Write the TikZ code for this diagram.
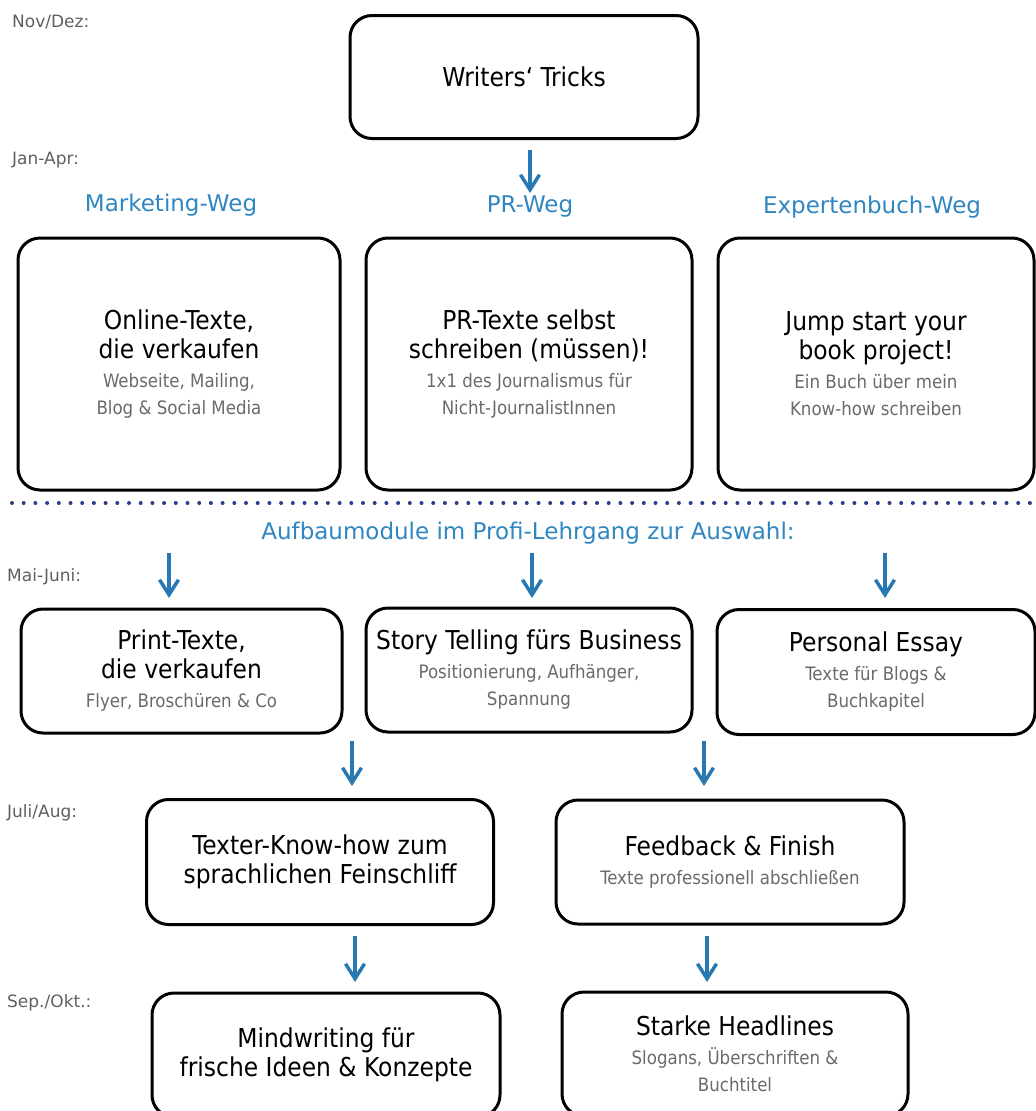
\documentclass[tikz,border=0pt]{standalone}
\usepackage{fontspec}
\setmainfont{DejaVu Sans}
\newfontfamily\condfont{DejaVu Sans Condensed}
\usetikzlibrary{arrows.meta}
\definecolor{arrblue}{HTML}{2878B4}
\definecolor{headblue}{HTML}{2F86C0}
\definecolor{subgray}{HTML}{6A6A6A}
\definecolor{labgray}{HTML}{5F5F5F}
\definecolor{dotblue}{HTML}{2D3D8A}
\newcommand\grayline[1]{{\color{subgray}\fontsize{18.5}{22}\selectfont #1}}
\begin{document}
\begin{tikzpicture}[x=1pt,y=-1pt,
  box/.style={draw=black, line width=3pt, rounded corners=22pt, align=center,
    inner sep=0pt, font=\condfont\fontsize{26}{29}\selectfont},
  head/.style={text=headblue, inner sep=0pt, font=\fontsize{23}{28}\selectfont},
  lab/.style={text=labgray, inner sep=0pt, anchor=west, font=\fontsize{17}{20}\selectfont},
  arr/.style={draw=arrblue, line width=3.5pt,
    -{Straight Barb[length=15pt,width=19pt,line width=3.5pt]}},
  dotline/.style={draw=dotblue, line width=4pt, line cap=round, dash pattern=on 0pt off 11.7pt}
]
\useasboundingbox (0,0) rectangle (1036,1111);

% month labels
\node[lab] (l1) at (12,22) {Nov/Dez:};
\node[lab] (l2) at (12,160) {Jan-Apr:};
\node[lab] (l3) at (7,577) {Mai-Juni:};
\node[lab] (l4) at (7,813) {Juli/Aug:};
\node[lab] (l5) at (7,1003) {Sep./Okt.:};

% top box
\node[box, minimum width=348pt, minimum height=123pt] (wt) at (524,77) {Writers‘ Tricks};

% headings
\node[head] (hm) at (171,205) {Marketing-Weg};
\node[head] (hp) at (530,207) {PR-Weg};
\node[head] (he) at (872,207) {Expertenbuch-Weg};

% main three boxes
\node[box, minimum width=322pt, minimum height=252pt] (on) at (179,364)
  {Online-Texte,\\die verkaufen\\\grayline{Webseite, Mailing,}\\[-2pt]\grayline{Blog \& Social Media}};
\node[box, minimum width=326pt, minimum height=252pt] (pr) at (529,364)
  {PR-Texte selbst\\schreiben (müssen)!\\\grayline{1x1 des Journalismus für}\\[-2pt]\grayline{Nicht-JournalistInnen}};
\node[box, minimum width=316pt, minimum height=252pt] (ex) at (876,364)
  {Jump start your\\book project!\\\grayline{Ein Buch über mein}\\[-2pt]\grayline{Know-how schreiben}};

% dotted separator
\coordinate (dl) at (12,503);
\coordinate (dr) at (1036,503);
\draw[dotline] (dl) -- (dr);

\node[head] (ha) at (528,533) {Aufbaumodule im Profi-Lehrgang zur Auswahl:};

% second row
\node[box, minimum width=321pt, minimum height=124pt] (pt) at (181.5,671)
  {Print-Texte,\\die verkaufen\\\grayline{Flyer, Broschüren \& Co}};
\node[box, minimum width=326pt, minimum height=124pt] (st) at (529,670)
  {Story Telling fürs Business\\\grayline{Positionierung, Aufhänger,}\\[-2pt]\grayline{Spannung}};
\node[box, minimum width=318pt, minimum height=125pt] (pe) at (876,672)
  {Personal Essay\\\grayline{Texte für Blogs \&}\\[-2pt]\grayline{Buchkapitel}};

% third row
\node[box, minimum width=347pt, minimum height=125pt] (tk) at (320,862)
  {Texter-Know-how zum\\sprachlichen Feinschliff};
\node[box, minimum width=348pt, minimum height=124pt] (ff) at (730,862)
  {Feedback \& Finish\\\grayline{Texte professionell abschließen}};

% fourth row
\node[box, minimum width=348pt, minimum height=124pt] (mw) at (326,1055)
  {Mindwriting für\\frische Ideen \& Konzepte};
\node[box, minimum width=346pt, minimum height=124pt] (sh) at (735,1054)
  {Starke Headlines\\\grayline{Slogans, Überschriften \&}\\[-2pt]\grayline{Buchtitel}};

% arrows
\coordinate (a0s) at (530,150); \coordinate (a0e) at (530,193);
\coordinate (a1s) at (169,553); \coordinate (a1e) at (169,598);
\coordinate (a2s) at (532,553); \coordinate (a2e) at (532,598);
\coordinate (a3s) at (885,553); \coordinate (a3e) at (885,598);
\coordinate (a4s) at (352,741); \coordinate (a4e) at (352,786);
\coordinate (a5s) at (704,741); \coordinate (a5e) at (704,786);
\coordinate (a6s) at (355,936); \coordinate (a6e) at (355,982);
\coordinate (a7s) at (707,936); \coordinate (a7e) at (707,982);
\foreach \i in {0,...,7} {\draw[arr] (a\i s) -- (a\i e);}
\end{tikzpicture}
\end{document}
